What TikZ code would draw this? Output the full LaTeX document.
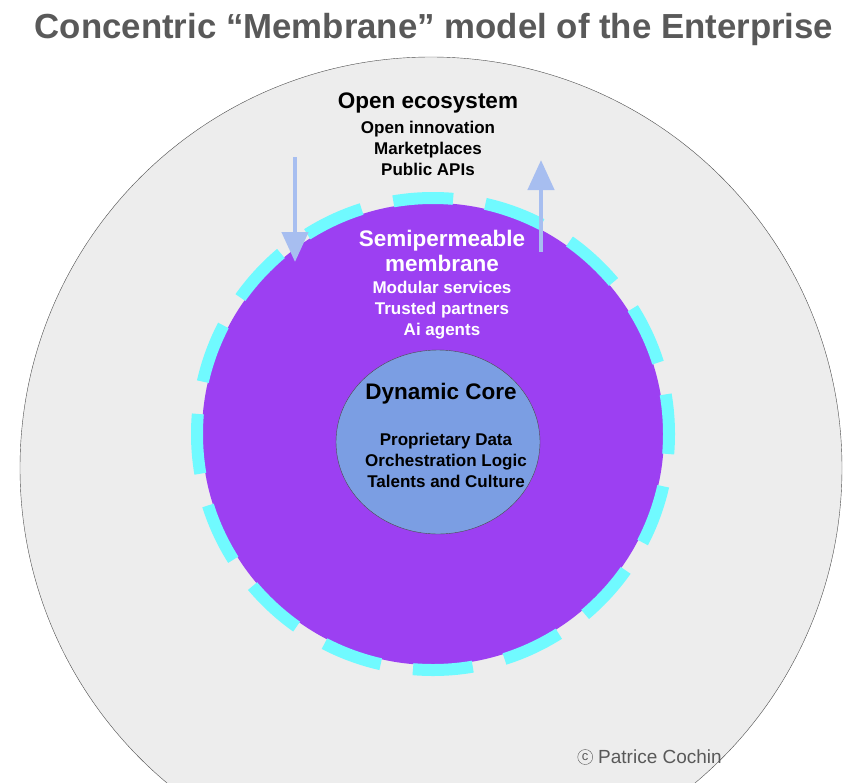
\documentclass[tikz,border=0pt]{standalone}
\usepackage{fontspec}
\setmainfont{Liberation Sans}
\usetikzlibrary{arrows.meta, positioning, shapes.geometric}
\definecolor{titlegray}{HTML}{595959}
\definecolor{ecogray}{HTML}{EDEDED}
\definecolor{memviolet}{HTML}{9C40F2}
\definecolor{memcyan}{HTML}{70FAFF}
\definecolor{coreblue}{HTML}{7B9EE3}
\definecolor{flowblue}{HTML}{A7BEF0}

\begin{document}
\begin{tikzpicture}[x=1pt, y=-1pt,
		label/.style={align=center, font=\bfseries\fontsize{17}{21}\selectfont},
		heading/.style={align=center, font=\bfseries\fontsize{22.5}{25}\selectfont},
		flow/.style={flowblue, line width=4.5pt, -{Triangle[width=26pt, length=30pt]}}]
		\useasboundingbox (0, 0) rectangle (862, 782);

		\begin{scope}
			\clip (0, 0) rectangle (862, 782);
			\node[circle, draw=black!70, fill=ecogray, minimum size=822pt, inner sep=0pt] (eco) at (431, 468) {};
		\end{scope}
		\node[circle, fill=memviolet, minimum size=462pt, inner sep=0pt] (mem) at (433, 434) {};
		\draw[memcyan, line width=12pt, dash pattern=on 60pt off 32.7pt, dash phase=40pt] (mem.center) circle (236);
		\node[ellipse, draw=black!70, fill=coreblue, minimum width=204pt, minimum height=184pt, inner sep=0pt] (core) at (438, 442) {};

		\node[font=\bfseries\fontsize{34.8}{40}\selectfont, text=titlegray] (title) at (434, 30) {Concentric “Membrane” model of the Enterprise};

		\node[heading] (ecohead) at (428, 103) {Open ecosystem};
		\node[label] (ecotext) at (428, 148) {Open innovation\\Marketplaces\\Public APIs};

		\node[heading, text=white] (memhead) at (442, 251) {Semipermeable\\membrane};
		\node[label, text=white] (memtext) at (442, 310) {Modular services\\Trusted partners\\Ai agents};

		\node[heading] (corehead) at (441, 394) {Dynamic Core};
		\node[label] (coretext) at (446, 460) {Proprietary Data\\Orchestration Logic\\Talents and Culture};

		\coordinate (intop) at (295, 157);
		\coordinate (inend) at (295, 262);
		\coordinate (outbot) at (541, 252);
		\coordinate (outend) at (541, 160);
		\draw[flow] (intop) -- (inend);
		\draw[flow] (outbot) -- (outend);

		\node[anchor=west, font=\fontsize{19}{22}\selectfont, text=titlegray] (credit) at (574, 757)
			{\tikz[baseline=-0.6ex]\node[circle, draw=titlegray, thin, minimum size=15pt, inner sep=0pt, font=\fontsize{13}{13}\selectfont]{c};\ Patrice Cochin};
	\end{tikzpicture}
\end{document}
